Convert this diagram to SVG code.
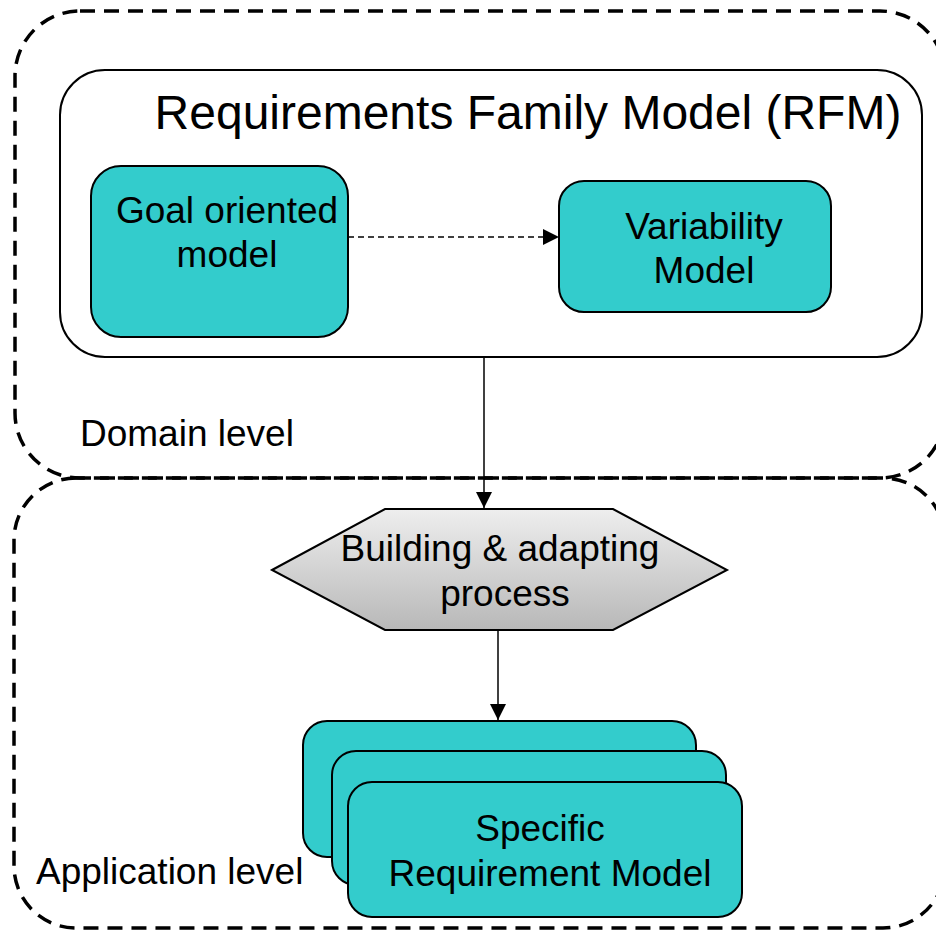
<svg xmlns="http://www.w3.org/2000/svg" width="936" height="932" viewBox="0 0 936 932">
<style>
.t{font-family:"Liberation Sans",Arial,sans-serif;fill:#000}
.zone{fill:none;stroke:#000;stroke-width:3.5;stroke-dasharray:15 9}
.box{fill:#33CCCC;stroke:#000;stroke-width:2}
.conn{fill:none;stroke:#000;stroke-width:1.5}
</style>
<defs>
<linearGradient id="hexg" x1="0" y1="0" x2="0" y2="1">
<stop offset="0" stop-color="#EEEEEE"/>
<stop offset="1" stop-color="#B8B8B8"/>
</linearGradient>
<marker id="ahv" markerWidth="16" markerHeight="16" viewBox="0 0 16 16" refX="16" refY="8" orient="auto" markerUnits="userSpaceOnUse">
<path d="M0,0 L16,8 L0,16 z" fill="#000"/>
</marker>
</defs>
<g id="domain">
<rect class="zone" x="15" y="11" width="930" height="467" rx="65" ry="65"/>
<text class="t" x="80" y="446" font-size="37">Domain level</text>
</g>
<g id="application">
<rect class="zone" x="14" y="478" width="931" height="450" rx="62" ry="62"/>
<text class="t" x="36" y="884" font-size="37">Application level</text>
</g>
<g id="rfm">
<rect x="60" y="70" width="862" height="287" rx="45" ry="45" fill="#fff" stroke="#000" stroke-width="2"/>
<text class="t" x="528" y="129" font-size="48" text-anchor="middle">Requirements Family Model (RFM)</text>
</g>
<g id="goal">
<rect class="box" x="91" y="166" width="257" height="171" rx="30" ry="30"/>
<text class="t" x="227" y="223" font-size="37" text-anchor="middle">Goal oriented</text>
<text class="t" x="227" y="267" font-size="37" text-anchor="middle">model</text>
</g>
<g id="variability">
<rect class="box" x="559" y="181" width="272" height="131" rx="25" ry="25"/>
<text class="t" x="704" y="239" font-size="37" text-anchor="middle">Variability</text>
<text class="t" x="704" y="283" font-size="37" text-anchor="middle">Model</text>
</g>
<g id="process">
<polygon points="272,570 385,509 613,509 727,570 613,630 385,630" fill="url(#hexg)" stroke="#000" stroke-width="2"/>
<text class="t" x="500" y="561" font-size="37" text-anchor="middle">Building &amp; adapting</text>
<text class="t" x="505" y="606" font-size="37" text-anchor="middle">process</text>
</g>
<g id="srm">
<rect class="box" x="303" y="721" width="393" height="136" rx="24" ry="24"/>
<rect class="box" x="332" y="751" width="394" height="134" rx="24" ry="24"/>
<rect class="box" x="348" y="782" width="394" height="135" rx="24" ry="24"/>
<text class="t" x="540" y="841" font-size="37" text-anchor="middle">Specific</text>
<text class="t" x="550" y="886" font-size="37" text-anchor="middle">Requirement Model</text>
</g>
<g id="connectors">
<line class="conn" x1="348" y1="237" x2="559" y2="237" stroke-dasharray="6 4" marker-end="url(#ahv)"/>
<line class="conn" x1="484" y1="357" x2="484" y2="508" marker-end="url(#ahv)"/>
<line class="conn" x1="498" y1="630" x2="498" y2="720" marker-end="url(#ahv)"/>
</g>
</svg>
